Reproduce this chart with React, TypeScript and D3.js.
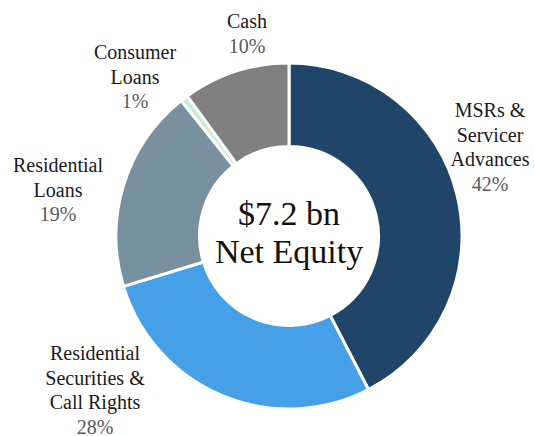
import React from "react";
import * as d3 from "d3";

const categories = ["MSRs & Servicer Advances", "Residential Securities & Call Rights", "Residential Loans", "Consumer Loans", "Cash"];
const values = [42.4, 27.9, 19.0, 0.7, 10.0];
const colors = ["#1F4568", "#46A0E8", "#7890A0", "#C6EFCE", "#808080"];
const labelLines = [
  ["MSRs &", "Servicer", "Advances"],
  ["Residential", "Securities &", "Call Rights"],
  ["Residential", "Loans"],
  ["Consumer", "Loans"],
  ["Cash"],
];
const labelPos: [number, number][] = [
  [490, 117],
  [95, 360],
  [58, 172],
  [135, 59],
  [247, 28],
];
const centerLines = ["$7.2 bn", "Net Equity"];

export default function App() {
  const W = 535, H = 436;
  const cx = 289, cy = 236;
  const outerR = 173, innerR = 89.5;
  const pie = d3.pie<number>().sort(null).value((d) => d);
  const arcs = pie(values);
  const arc = d3.arc<d3.PieArcDatum<number>>().innerRadius(innerR).outerRadius(outerR);
  const font = "'Liberation Serif', 'Times New Roman', serif";
  const lh = 24.5;
  return (
    <svg width={W} height={H} style={{ position: "absolute", left: 0, top: 0, background: "#fff" }}>
      <g transform={`translate(${cx},${cy})`}>
        {arcs.map((a, i) => (
          <path key={categories[i]} d={arc(a) || ""} fill={colors[i]} stroke="#fff" strokeWidth={3} />
        ))}
        {centerLines.map((t, i) => (
          <text key={t} x={0} y={-11 + i * 38} textAnchor="middle" fontFamily={font} fontSize={34} fill="#111">
            {t}
          </text>
        ))}
      </g>
      {labelLines.map((lines, i) => (
        <text key={categories[i]} textAnchor="middle" fontFamily={font} fontSize={20}>
          {lines.map((l, j) => (
            <tspan key={j} x={labelPos[i][0]} y={labelPos[i][1] + j * lh} fill="#1a1a1a">
              {l}
            </tspan>
          ))}
          <tspan x={labelPos[i][0]} y={labelPos[i][1] + lines.length * lh} fill="#595959">
            {Math.round(values[i])}%
          </tspan>
        </text>
      ))}
    </svg>
  );
}
